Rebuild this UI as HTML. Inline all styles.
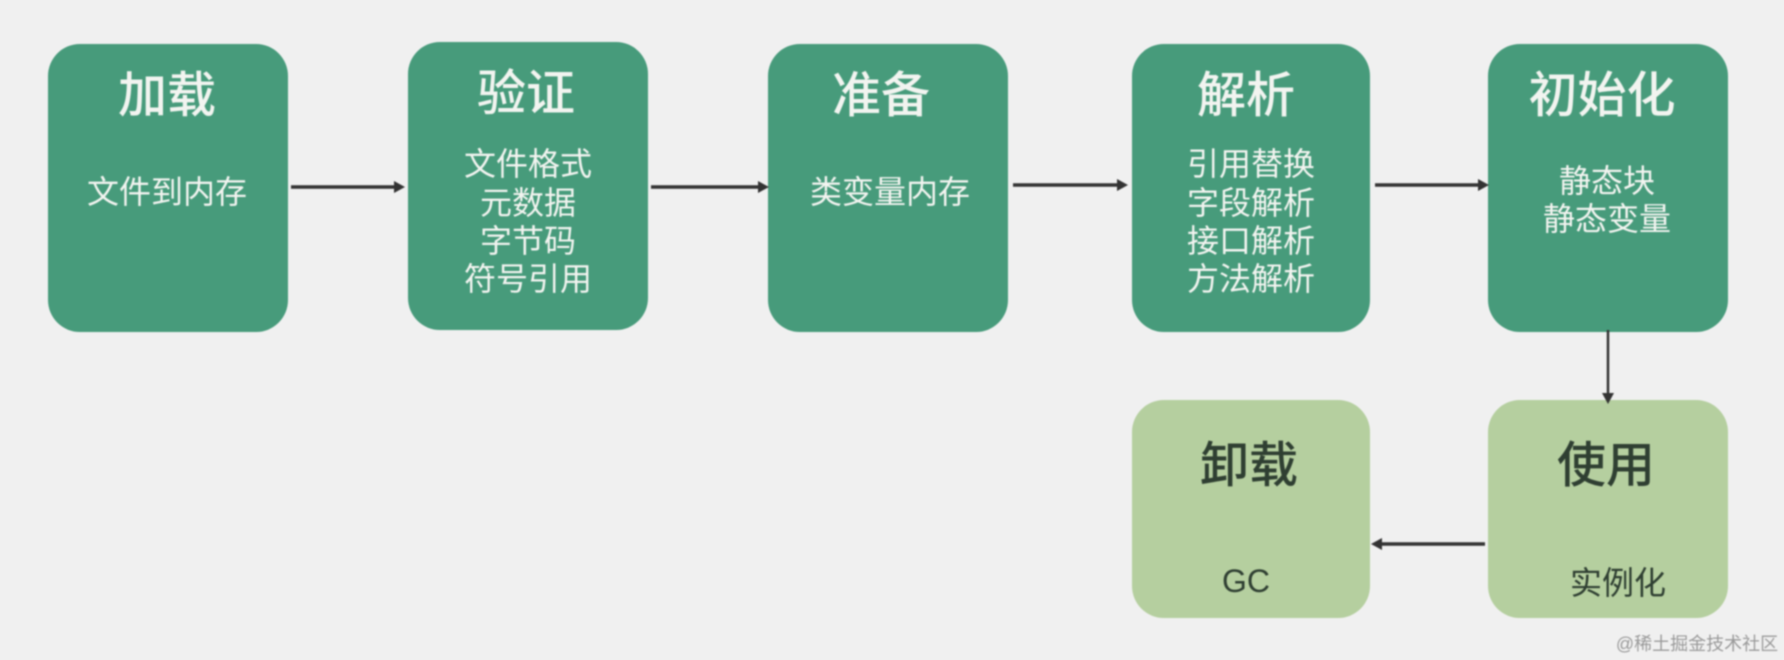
<!DOCTYPE html>
<html lang="zh"><head><meta charset="utf-8"><style>
html,body{margin:0;padding:0;width:1784px;height:660px;overflow:hidden;background:#f0f0f0}
svg{display:block;filter:blur(.7px)}
text{font-family:"Liberation Sans","Noto Sans CJK SC",sans-serif;text-anchor:middle}
.t{font-size:49px;font-weight:500}
.s{font-size:32px}
.w{fill:#f2f4f0}
.d{fill:#2f3f32}
</style></head><body>
<svg width="1784" height="660" viewBox="0 0 1784 660" xmlns="http://www.w3.org/2000/svg">
<rect width="1784" height="660" fill="#f0f0f0"/>
<g fill="#479b7b">
<rect x="48" y="44" width="240" height="288" rx="32"/>
<rect x="408" y="42" width="240" height="288" rx="32"/>
<rect x="768" y="44" width="240" height="288" rx="32"/>
<rect x="1132" y="44" width="238" height="288" rx="32"/>
<rect x="1488" y="44" width="240" height="288" rx="32"/>
</g>
<g fill="#b5cf9f">
<rect x="1132" y="400" width="238" height="218" rx="32"/>
<rect x="1488" y="400" width="240" height="218" rx="32"/>
</g>
<g stroke="#333" stroke-width="3.5" fill="none">
<path d="M291 187H396M651 187H760M1013 185H1119M1375 185H1480M1380 544H1485"/>
<path d="M1608 330V395" stroke-width="2.5"/>
</g>
<g fill="#333">
<path d="M394 181L405 187L394 193ZM758 181L769 187L758 193ZM1117 179L1128 185L1117 191ZM1478 179L1489 185L1478 191ZM1382 538L1371 544L1382 550ZM1602 393L1608 404L1614 393Z"/>
</g>
<g class="w">
<text class="t" x="167" y="112">加载</text>
<text class="s" x="167" y="203">文件到内存</text>
<text class="t" x="526" y="110">验证</text>
<text class="s" x="528" y="175">文件格式</text>
<text class="s" x="528" y="214">元数据</text>
<text class="s" x="528" y="252">字节码</text>
<text class="s" x="528" y="290">符号引用</text>
<text class="t" x="881" y="112">准备</text>
<text class="s" x="890" y="203">类变量内存</text>
<text class="t" x="1246" y="112">解析</text>
<text class="s" x="1251" y="175">引用替换</text>
<text class="s" x="1251" y="214">字段解析</text>
<text class="s" x="1251" y="252">接口解析</text>
<text class="s" x="1251" y="290">方法解析</text>
<text class="t" x="1602" y="112">初始化</text>
<text class="s" x="1607" y="192">静态块</text>
<text class="s" x="1607" y="230">静态变量</text>
</g>
<g class="d">
<text class="t" x="1249" y="482">卸载</text>
<text class="s" x="1246" y="592">GC</text>
<text class="t" x="1606" y="482">使用</text>
<text class="s" x="1618" y="594">实例化</text>
</g>
<text x="1697" y="650" font-size="18" fill="#9a9a9a">@稀土掘金技术社区</text>
</svg>
</body></html>
